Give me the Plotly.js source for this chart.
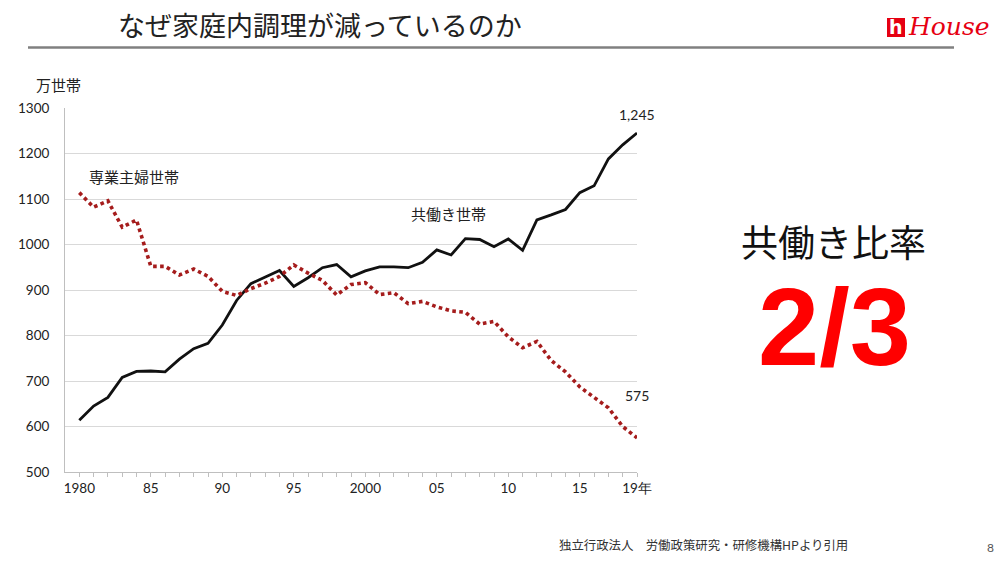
<!DOCTYPE html>
<html>
<head>
<meta charset="utf-8">
<script src="https://cdn.plot.ly/plotly-3.0.1.min.js"></script>
<style>
html,body{margin:0;padding:0;background:#fff;}
#chart{width:1000px;height:563px;}
</style>
</head>
<body>
<div id="chart"></div>
<script>
// ---- data ----
const years = [1980,1981,1982,1983,1984,1985,1986,1987,1988,1989,
               1990,1991,1992,1993,1994,1995,1996,1997,1998,1999,
               2000,2001,2002,2003,2004,2005,2006,2007,2008,2009,
               2010,2011,2012,2013,2014,2015,2016,2017,2018,2019];
const dualIncome = [614,645,664,708,721,722,720,748,771,783,
                    823,877,914,929,943,908,927,949,956,929,
                    942,951,951,949,961,988,977,1013,1011,995,
                    1012,987,1054,1065,1077,1114,1129,1188,1219,1245];
const housewife = [1114,1082,1096,1038,1054,952,952,933,946,930,
                   897,888,903,915,930,955,937,921,889,912,
                   916,890,894,870,875,863,854,851,825,831,
                   797,773,787,745,720,687,664,641,600,575];
const tickYears  = [1980,1985,1990,1995,2000,2005,2010,2015,2019];
const tickLabels = ['1980','85','90','95','2000','05','10','15','19年'];
const yTicks = [500,600,700,800,900,1000,1100,1200,1300];
const seriesNames = ['共働き世帯','専業主婦世帯'];

// ---- layout helpers (pixel -> paper) ----
const W = 1000, H = 563;
const M = {l:65, r:363, t:108, b:91};
const PW = W - M.l - M.r, PH = H - M.t - M.b;
const px = x => (x - M.l) / PW;
const py = y => (H - M.b - y) / PH;

const JP = '"Noto Sans CJK JP", "Noto Sans", sans-serif';
const NUM = 'Lato, "Open Sans", sans-serif';

const tickText = years.map(y => {
  const i = tickYears.indexOf(y);
  return i >= 0 ? tickLabels[i] : '';
});

const last = years.length - 1;

const traces = [
  {x: years, y: dualIncome, name: seriesNames[0], type: 'scatter', mode: 'lines',
   line: {color: '#111111', width: 2.8}, cliponaxis: false},
  {x: years, y: housewife, name: seriesNames[1], type: 'scatter', mode: 'lines',
   line: {color: '#a51c1c', width: 3.6, dash: '3.6px,3.4px'}, cliponaxis: false}
];

const layout = {
  width: W, height: H,
  margin: M,
  paper_bgcolor: '#ffffff', plot_bgcolor: '#ffffff',
  showlegend: false,
  xaxis: {
    range: [1979, 2019],
    tickmode: 'array', tickvals: years, ticktext: tickText,
    ticks: 'outside', ticklen: 4, tickcolor: '#bfbfbf', tickwidth: 1,
    showline: true, linecolor: '#bfbfbf', linewidth: 1,
    showgrid: false, zeroline: false,
    tickfont: {family: NUM, size: 13.5, color: '#222'}
  },
  yaxis: {
    range: [500, 1300],
    tickmode: 'array', tickvals: yTicks,
    ticks: '', ticklabelstandoff: 12,
    showline: true, linecolor: '#bfbfbf', linewidth: 1,
    showgrid: true, gridcolor: '#d9d9d9', gridwidth: 1,
    zeroline: false,
    tickfont: {family: NUM, size: 13.5, color: '#222'}
  },
  shapes: [
    // header separator
    {type: 'line', xref: 'paper', yref: 'paper', x0: px(28), x1: px(954), y0: py(47.5), y1: py(47.5),
     line: {color: '#808080', width: 2.5}},
    // logo icon
    {type: 'rect', xref: 'paper', yref: 'paper', x0: px(887), x1: px(905), y0: py(18), y1: py(37),
     fillcolor: '#e60012', line: {width: 0}}
  ],
  annotations: [
    {text: 'なぜ家庭内調理が減っているのか', xref: 'paper', yref: 'paper', x: px(116), y: py(25),
     xanchor: 'left', yanchor: 'middle', showarrow: false,
     font: {family: JP, size: 27, color: '#222'}},
    {text: '<b>h</b>', xref: 'paper', yref: 'paper', x: px(896), y: py(27),
     xanchor: 'center', yanchor: 'middle', showarrow: false,
     font: {family: '"DejaVu Sans", sans-serif', size: 19, color: '#ffffff'}},
    {text: '<i>House</i>', xref: 'paper', yref: 'paper', x: px(906), y: py(27),
     xanchor: 'left', yanchor: 'middle', showarrow: false,
     font: {family: '"DejaVu Serif", "Liberation Serif", serif', size: 25, color: '#e60012'}},
    {text: '万世帯', xref: 'paper', yref: 'paper', x: px(58), y: py(84),
     xanchor: 'center', yanchor: 'middle', showarrow: false,
     font: {family: JP, size: 15, color: '#222'}},
    {text: seriesNames[1], xref: 'paper', yref: 'paper', x: px(134), y: py(176),
     xanchor: 'center', yanchor: 'middle', showarrow: false,
     font: {family: JP, size: 15, color: '#222'}},
    {text: seriesNames[0], xref: 'paper', yref: 'paper', x: px(448), y: py(213),
     xanchor: 'center', yanchor: 'middle', showarrow: false,
     font: {family: JP, size: 15, color: '#222'}},
    {text: dualIncome[last].toLocaleString('en-US'), xref: 'x', yref: 'y', x: years[last], y: dualIncome[last],
     xanchor: 'center', yanchor: 'middle', yshift: 19, showarrow: false,
     font: {family: NUM, size: 14, color: '#222'}},
    {text: String(housewife[last]), xref: 'x', yref: 'y', x: years[last], y: housewife[last],
     xanchor: 'center', yanchor: 'middle', yshift: 42, showarrow: false,
     font: {family: NUM, size: 14, color: '#222'}},
    {text: '共働き比率', xref: 'paper', yref: 'paper', x: px(833), y: py(241),
     xanchor: 'center', yanchor: 'middle', showarrow: false,
     font: {family: JP, size: 37, color: '#111'}},
    {text: '<b>2/3</b>', xref: 'paper', yref: 'paper', x: px(834), y: py(326),
     xanchor: 'center', yanchor: 'middle', showarrow: false,
     font: {family: '"Liberation Sans", Arial, sans-serif', size: 110, color: '#ff0000'}},
    {text: '独立行政法人　労働政策研究・研修機構HPより引用', xref: 'paper', yref: 'paper', x: px(557), y: py(545),
     xanchor: 'left', yanchor: 'middle', showarrow: false,
     font: {family: JP, size: 12.4, color: '#333'}},
    {text: '8', xref: 'paper', yref: 'paper', x: px(990), y: py(547),
     xanchor: 'center', yanchor: 'middle', showarrow: false,
     font: {family: NUM, size: 12, color: '#555'}}
  ]
};

Plotly.newPlot('chart', traces, layout, {displayModeBar: false, staticPlot: true});
</script>
</body>
</html>
